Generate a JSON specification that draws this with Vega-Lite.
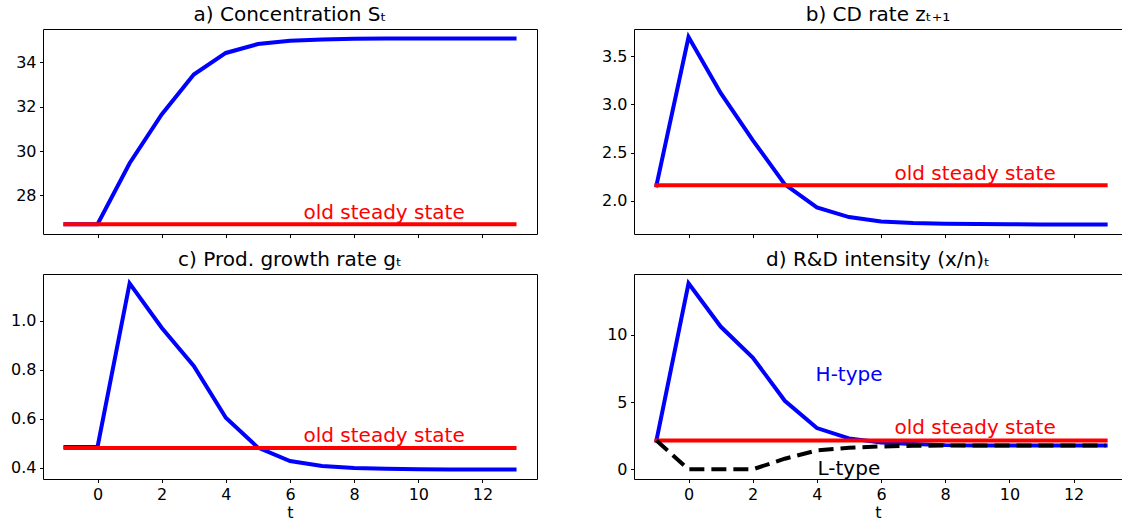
{
  "$schema": "https://vega.github.io/schema/vega-lite/v6.json",
  "background": "white",
  "padding": {"left": 10, "top": 4, "right": 0, "bottom": 0},
  "columns": 2,
  "align": "each",
  "spacing": {"row": 10, "column": 63},
  "datasets": {
    "aH": [{"t":-1,"v":26.7},{"t":0,"v":26.7},{"t":1,"v":29.45},{"t":2,"v":31.65},{"t":3,"v":33.45},{"t":4,"v":34.42},{"t":5,"v":34.82},{"t":6,"v":34.97},{"t":7,"v":35.03},{"t":8,"v":35.06},{"t":9,"v":35.07},{"t":10,"v":35.07},{"t":11,"v":35.07},{"t":12,"v":35.07},{"t":13,"v":35.07}],
    "aS": [{"t":-1,"v":26.7},{"t":13,"v":26.7}],
    "aN": [{"t":6.42,"v":26.95,"label":"old steady state","kind":"ss"}],
    "bH": [{"t":-1,"v":2.16},{"t":0,"v":3.7},{"t":1,"v":3.12},{"t":2,"v":2.63},{"t":3,"v":2.17},{"t":4,"v":1.93},{"t":5,"v":1.83},{"t":6,"v":1.785},{"t":7,"v":1.768},{"t":8,"v":1.761},{"t":9,"v":1.757},{"t":10,"v":1.755},{"t":11,"v":1.754},{"t":12,"v":1.754},{"t":13,"v":1.754}],
    "bS": [{"t":-1,"v":2.16},{"t":13,"v":2.16}],
    "bN": [{"t":6.42,"v":2.215,"label":"old steady state","kind":"ss"}],
    "cH": [{"t":-1,"v":0.485},{"t":0,"v":0.485},{"t":1,"v":1.152},{"t":2,"v":0.971},{"t":3,"v":0.815},{"t":4,"v":0.604},{"t":5,"v":0.482},{"t":6,"v":0.427},{"t":7,"v":0.407},{"t":8,"v":0.399},{"t":9,"v":0.396},{"t":10,"v":0.394},{"t":11,"v":0.393},{"t":12,"v":0.393},{"t":13,"v":0.393}],
    "cS": [{"t":-1,"v":0.48},{"t":13,"v":0.48}],
    "cN": [{"t":6.42,"v":0.506,"label":"old steady state","kind":"ss"}],
    "dH": [{"t":-1,"v":2.15},{"t":0,"v":13.84},{"t":1,"v":10.62},{"t":2,"v":8.32},{"t":3,"v":5.1},{"t":4,"v":3.07},{"t":5,"v":2.3},{"t":6,"v":2.0},{"t":7,"v":1.88},{"t":8,"v":1.8},{"t":9,"v":1.78},{"t":10,"v":1.77},{"t":11,"v":1.77},{"t":12,"v":1.77},{"t":13,"v":1.77}],
    "dL": [{"t":-1,"v":2.15},{"t":0,"v":0},{"t":1,"v":0},{"t":2,"v":0},{"t":3,"v":0.79},{"t":4,"v":1.41},{"t":5,"v":1.6},{"t":6,"v":1.7},{"t":7,"v":1.75},{"t":8,"v":1.77},{"t":9,"v":1.77},{"t":10,"v":1.77},{"t":11,"v":1.77},{"t":12,"v":1.77},{"t":13,"v":1.77}],
    "dS": [{"t":-1,"v":2.15},{"t":13,"v":2.15}],
    "dN": [{"t":6.42,"v":2.6,"label":"old steady state","kind":"ss"},{"t":3.96,"v":6.58,"label":"H-type","kind":"H"},{"t":4.02,"v":-0.4,"label":"L-type","kind":"L"}]
  },
  "concat": [
    {
      "width": 494, "height": 205,
      "title": {"text": "a) Concentration Sₜ"},
      "layer": [
        {"data": {"name": "aH"}, "mark": {"type": "line", "color": "#0000ff", "strokeWidth": 4, "strokeCap": "square"},
         "encoding": {
           "x": {"field": "t", "type": "quantitative", "scale": {"domain": [-1.7, 13.7], "nice": false, "zero": false}, "axis": {"values": [0,2,4,6,8,10,12], "labels": false, "title": null}},
           "y": {"field": "v", "type": "quantitative", "scale": {"domain": [26.26, 35.5], "nice": false, "zero": false}, "axis": {"values": [28,30,32,34], "format": "d", "title": null}}
         }},
        {"data": {"name": "aS"}, "mark": {"type": "line", "color": "#ff0000", "strokeWidth": 4, "strokeCap": "square"},
         "encoding": {"x": {"field": "t", "type": "quantitative"}, "y": {"field": "v", "type": "quantitative"}}},
        {"data": {"name": "aN"}, "mark": {"type": "text", "align": "left", "baseline": "alphabetic", "fontSize": 20},
         "encoding": {"x": {"field": "t", "type": "quantitative"}, "y": {"field": "v", "type": "quantitative"}, "text": {"field": "label"},
           "color": {"field": "kind", "type": "nominal", "scale": {"domain": ["ss","H","L"], "range": ["#ff0000","#0000ff","#000000"]}, "legend": null}}}
      ]
    },
    {
      "width": 488, "height": 205,
      "title": {"text": "b) CD rate zₜ₊₁"},
      "layer": [
        {"data": {"name": "bH"}, "mark": {"type": "line", "color": "#0000ff", "strokeWidth": 4, "strokeCap": "square"},
         "encoding": {
           "x": {"field": "t", "type": "quantitative", "scale": {"domain": [-1.7, 13.51], "nice": false, "zero": false}, "axis": {"values": [0,2,4,6,8,10,12], "labels": false, "title": null}},
           "y": {"field": "v", "type": "quantitative", "scale": {"domain": [1.654, 3.784], "nice": false, "zero": false}, "axis": {"values": [2.0,2.5,3.0,3.5], "format": ".1f", "title": null}}
         }},
        {"data": {"name": "bS"}, "mark": {"type": "line", "color": "#ff0000", "strokeWidth": 4, "strokeCap": "square"},
         "encoding": {"x": {"field": "t", "type": "quantitative"}, "y": {"field": "v", "type": "quantitative"}}},
        {"data": {"name": "bN"}, "mark": {"type": "text", "align": "left", "baseline": "alphabetic", "fontSize": 20},
         "encoding": {"x": {"field": "t", "type": "quantitative"}, "y": {"field": "v", "type": "quantitative"}, "text": {"field": "label"},
           "color": {"field": "kind", "type": "nominal", "scale": {"domain": ["ss","H","L"], "range": ["#ff0000","#0000ff","#000000"]}, "legend": null}}}
      ]
    },
    {
      "width": 494, "height": 205,
      "title": {"text": "c) Prod. growth rate gₜ"},
      "layer": [
        {"data": {"name": "cH"}, "mark": {"type": "line", "color": "#0000ff", "strokeWidth": 4, "strokeCap": "square"},
         "encoding": {
           "x": {"field": "t", "type": "quantitative", "scale": {"domain": [-1.7, 13.7], "nice": false, "zero": false}, "axis": {"values": [0,2,4,6,8,10,12], "title": "t"}},
           "y": {"field": "v", "type": "quantitative", "scale": {"domain": [0.354, 1.19], "nice": false, "zero": false}, "axis": {"values": [0.4,0.6,0.8,1.0], "format": ".1f", "title": null}}
         }},
        {"data": {"name": "cS"}, "mark": {"type": "line", "color": "#ff0000", "strokeWidth": 4, "strokeCap": "square"},
         "encoding": {"x": {"field": "t", "type": "quantitative"}, "y": {"field": "v", "type": "quantitative"}}},
        {"data": {"name": "cN"}, "mark": {"type": "text", "align": "left", "baseline": "alphabetic", "fontSize": 20},
         "encoding": {"x": {"field": "t", "type": "quantitative"}, "y": {"field": "v", "type": "quantitative"}, "text": {"field": "label"},
           "color": {"field": "kind", "type": "nominal", "scale": {"domain": ["ss","H","L"], "range": ["#ff0000","#0000ff","#000000"]}, "legend": null}}}
      ]
    },
    {
      "width": 488, "height": 205,
      "title": {"text": "d) R&D intensity (x/n)ₜ"},
      "layer": [
        {"data": {"name": "dH"}, "mark": {"type": "line", "color": "#0000ff", "strokeWidth": 4, "strokeCap": "square"},
         "encoding": {
           "x": {"field": "t", "type": "quantitative", "scale": {"domain": [-1.7, 13.51], "nice": false, "zero": false}, "axis": {"values": [0,2,4,6,8,10,12], "title": "t"}},
           "y": {"field": "v", "type": "quantitative", "scale": {"domain": [-0.72, 14.53], "nice": false, "zero": false}, "axis": {"values": [0,5,10], "format": "d", "title": null}}
         }},
        {"data": {"name": "dS"}, "mark": {"type": "line", "color": "#ff0000", "strokeWidth": 4, "strokeCap": "square"},
         "encoding": {"x": {"field": "t", "type": "quantitative"}, "y": {"field": "v", "type": "quantitative"}}},
        {"data": {"name": "dL"}, "mark": {"type": "line", "color": "#000000", "strokeWidth": 4, "strokeCap": "butt", "strokeDash": [15, 7]},
         "encoding": {"x": {"field": "t", "type": "quantitative"}, "y": {"field": "v", "type": "quantitative"}}},
        {"data": {"name": "dN"}, "mark": {"type": "text", "align": "left", "baseline": "alphabetic", "fontSize": 20},
         "encoding": {"x": {"field": "t", "type": "quantitative"}, "y": {"field": "v", "type": "quantitative"}, "text": {"field": "label"},
           "color": {"field": "kind", "type": "nominal", "scale": {"domain": ["ss","H","L"], "range": ["#ff0000","#0000ff","#000000"]}, "legend": null}}}
      ]
    }
  ],
  "config": {
    "font": "DejaVu Sans",
    "view": {"stroke": "#000000", "strokeWidth": 1},
    "axis": {"grid": false, "domain": false, "tickColor": "#000000", "tickSize": 3.5, "tickWidth": 1, "labelFontSize": 16, "labelColor": "#000000", "labelPadding": 3.5, "titleFontSize": 16, "titleFontWeight": "normal", "titleColor": "#000000", "titlePadding": 2},
    "title": {"fontSize": 20, "fontWeight": "normal", "color": "#000000", "offset": 4, "frame": "group", "anchor": "middle"}
  }
}
